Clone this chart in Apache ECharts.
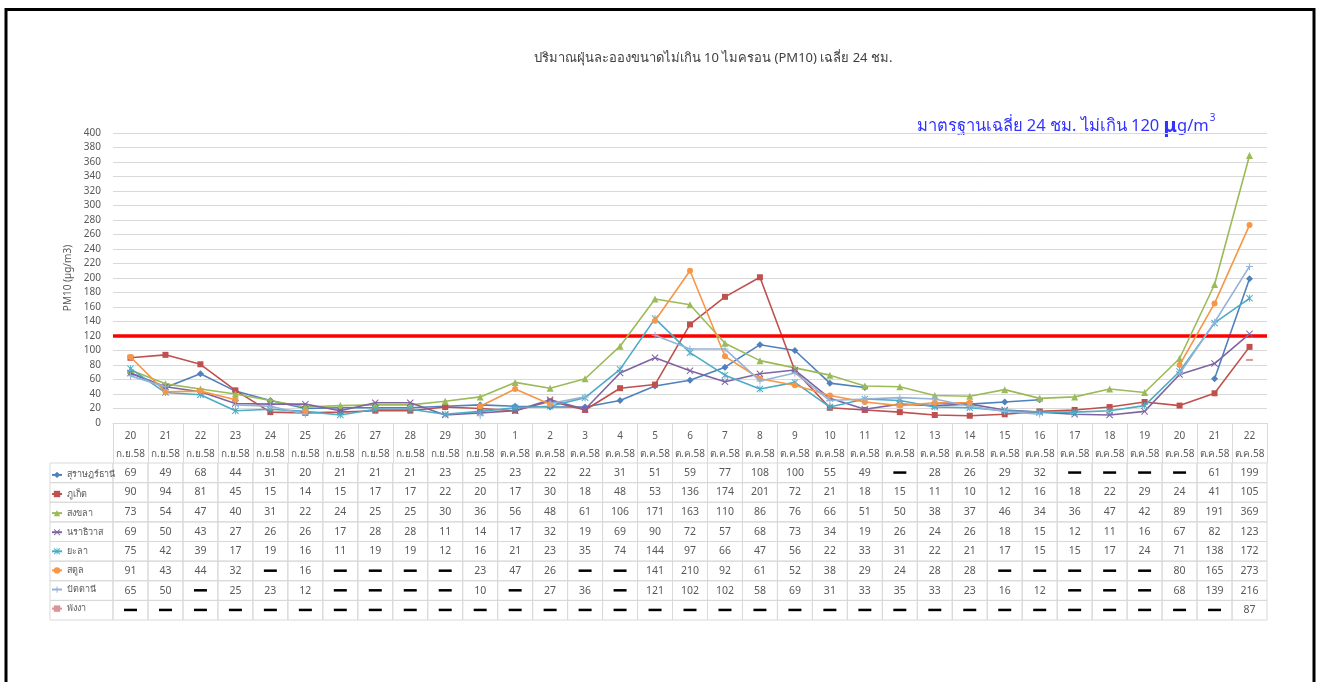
<!DOCTYPE html>
<html>
<head>
<meta charset="utf-8">
<script src="https://cdn.jsdelivr.net/npm/echarts@6/dist/echarts.min.js"></script>
<style>
html,body{margin:0;padding:0;background:#fff;}
#main{width:1325px;height:682px;}
</style>
</head>
<body>
<div id="main"></div>
<script>
// ---------- DATA ----------
const days = ['20','21','22','23','24','25','26','27','28','29','30',
  '1','2','3','4','5','6','7','8','9','10','11','12','13','14','15','16','17','18','19','20','21','22'];
const months = ['ก.ย.58','ก.ย.58','ก.ย.58','ก.ย.58','ก.ย.58','ก.ย.58','ก.ย.58','ก.ย.58','ก.ย.58','ก.ย.58','ก.ย.58',
  'ต.ค.58','ต.ค.58','ต.ค.58','ต.ค.58','ต.ค.58','ต.ค.58','ต.ค.58','ต.ค.58','ต.ค.58','ต.ค.58','ต.ค.58',
  'ต.ค.58','ต.ค.58','ต.ค.58','ต.ค.58','ต.ค.58','ต.ค.58','ต.ค.58','ต.ค.58','ต.ค.58','ต.ค.58','ต.ค.58'];
const seriesNames = ['สุราษฎร์ธานี','ภูเก็ต','สงขลา','นราธิวาส','ยะลา','สตูล','ปัตตานี','พังงา'];
const suratThani  = [69,49,68,44,31,20,21,21,21,23,25, 23,22,22,31,51,59,77,108,100,55,49,null,28,26,29,32,null,null,null,null,61,199];
const phuket      = [90,94,81,45,15,14,15,17,17,22,20, 17,30,18,48,53,136,174,201,72,21,18,15,11,10,12,16,18,22,29,24,41,105];
const songkhla    = [73,54,47,40,31,22,24,25,25,30,36, 56,48,61,106,171,163,110,86,76,66,51,50,38,37,46,34,36,47,42,89,191,369];
const narathiwat  = [69,50,43,27,26,26,17,28,28,11,14, 17,32,19,69,90,72,57,68,73,34,19,26,24,26,18,15,12,11,16,67,82,123];
const yala        = [75,42,39,17,19,16,11,19,19,12,16, 21,23,35,74,144,97,66,47,56,22,33,31,22,21,17,15,15,17,24,71,138,172];
const satun       = [91,43,44,32,null,16,null,null,null,null,23, 47,26,null,null,141,210,92,61,52,38,29,24,28,28,null,null,null,null,null,80,165,273];
const pattani     = [65,50,null,25,23,12,null,null,null,null,10, null,27,36,null,121,102,102,58,69,31,33,35,33,23,16,12,null,null,null,68,139,216];
const phangnga    = [null,null,null,null,null,null,null,null,null,null,null, null,null,null,null,null,null,null,null,null,null,null,null,null,null,null,null,null,null,null,null,null,87];
const yTicks = {min: 0, max: 400, interval: 20};
const standardLimit = 120;
const titleText = 'ปริมาณฝุ่นละอองขนาดไม่เกิน 10 ไมครอน (PM10) เฉลี่ย 24 ชม.';
const yAxisName = 'PM10 (µg/m3)';

// ---------- STYLE ----------
const FONT = "'Noto Sans', 'DejaVu Sans', sans-serif";
const values = [suratThani, phuket, songkhla, narathiwat, yala, satun, pattani, phangnga];
const colors = ['#4F81BD','#C0504D','#9BBB59','#8064A2','#4BACC6','#F79646','#95B3D7','#D99694'];
const PLUS = 'path://M4.3,0H5.7V4.3H10V5.7H5.7V10H4.3V5.7H0V4.3H4.3Z';
const XMARK = 'path://M0,1L1,0L5,4L9,0L10,1L6,5L10,9L9,10L5,6L1,10L0,9L4,5Z';
const STAR = 'path://M0,1L1,0L5,4L9,0L10,1L6,5L10,9L9,10L5,6L1,10L0,9L4,5Z M4.4,0H5.6V10H4.4Z';
const symbols = [
  {symbol:'diamond', size:7},
  {symbol:'rect', size:6},
  {symbol:'triangle', size:7},
  {symbol:XMARK, size:7},
  {symbol:STAR, size:7},
  {symbol:'circle', size:6},
  {symbol:PLUS, size:7},
  {symbol:'rect', size:[7,2]}
];
const categories = days.map((d, i) => d + '\n' + months[i]);
const LEGEND_COL_W = 63;

const lineSeries = seriesNames.map((name, i) => ({
  type: 'line',
  name: name,
  xAxisIndex: 0, yAxisIndex: 0,
  data: values[i],
  connectNulls: false,
  symbol: symbols[i].symbol,
  symbolSize: symbols[i].size,
  showAllSymbol: true,
  lineStyle: {width: 1.6, color: colors[i]},
  itemStyle: {color: colors[i]},
  z: 3 + i,
  animation: false
}));
lineSeries[0].markLine = {
  silent: true,
  symbol: ['none','none'],
  label: {show: false},
  lineStyle: {color: '#FF0000', width: 3.5, type: 'solid'},
  data: [{yAxis: standardLimit}],
  animation: false
};

const tableData = [];
for (let r = 0; r < seriesNames.length; r++) {
  for (let c = 0; c < categories.length; c++) tableData.push([c, r]);
}

const tableSeries = {
  type: 'custom',
  xAxisIndex: 1, yAxisIndex: 1,
  data: tableData,
  silent: true,
  clip: false,
  animation: false,
  renderItem: function (params, api) {
    const xi = api.value(0), yi = api.value(1);
    const c = api.coord([xi, yi]);
    const s = api.size([1, 1]);
    const v = values[yi][xi];
    const children = [{
      type: 'rect',
      shape: {x: c[0] - s[0] / 2, y: c[1] - s[1] / 2, width: s[0], height: s[1]},
      style: {fill: 'none', stroke: '#D9D9D9', lineWidth: 1}
    }];
    if (xi === 0) {
      children.push({
        type: 'rect',
        shape: {x: c[0] - s[0] / 2 - LEGEND_COL_W, y: c[1] - s[1] / 2, width: LEGEND_COL_W, height: s[1]},
        style: {fill: 'none', stroke: '#D9D9D9', lineWidth: 1}
      });
    }
    if (v == null) {
      children.push({
        type: 'rect',
        shape: {x: c[0] - 6.5, y: c[1] - 1.5, width: 13, height: 2.5},
        style: {fill: '#000'}
      });
    } else {
      children.push({
        type: 'text',
        style: {text: String(v), x: c[0], y: c[1], align: 'center', verticalAlign: 'middle',
          fill: '#595959', font: '10.5px ' + FONT}
      });
    }
    return {type: 'group', children: children};
  }
};

const option = {
  backgroundColor: '#fff',
  animation: false,
  textStyle: {fontFamily: FONT},
  grid: [
    {left: 113, top: 133, width: 1154, height: 290, containLabel: false},
    {left: 113, top: 463, width: 1154, height: 157, containLabel: false}
  ],
  legend: {
    data: seriesNames,
    orient: 'vertical',
    left: 51, top: 470.4,
    padding: 0,
    itemWidth: 10, itemHeight: 8, itemGap: 10.1,
    selectedMode: false,
    textStyle: {fontSize: 9, color: '#595959', lineHeight: 8, fontFamily: FONT}
  },
  xAxis: [
    {
      type: 'category', gridIndex: 0, data: categories, boundaryGap: true,
      axisLine: {lineStyle: {color: '#D9D9D9'}},
      axisTick: {show: true, length: 40, interval: 0, lineStyle: {color: '#D9D9D9'}},
      axisLabel: {interval: 0, fontSize: 10, color: '#595959', lineHeight: 18, margin: 4, fontFamily: FONT},
      splitLine: {show: false}
    },
    {
      type: 'category', gridIndex: 1, data: categories, boundaryGap: true, show: false
    }
  ],
  yAxis: [
    {
      type: 'value', gridIndex: 0, min: yTicks.min, max: yTicks.max, interval: yTicks.interval,
      name: yAxisName, nameLocation: 'middle', nameGap: 40, nameRotate: 90,
      nameTextStyle: {fontSize: 10, color: '#595959', fontFamily: FONT},
      axisLine: {show: false}, axisTick: {show: false},
      axisLabel: {fontSize: 10, color: '#595959', margin: 12, fontFamily: FONT},
      splitLine: {lineStyle: {color: '#D9D9D9', width: 1}}
    },
    {
      type: 'category', gridIndex: 1, data: seriesNames, inverse: true, show: false
    }
  ],
  graphic: [
    {type: 'rect', shape: {x: 6, y: 9.5, width: 1308, height: 720},
      style: {fill: 'none', stroke: '#000', lineWidth: 3}, z: 100},
    {type: 'text', x: 713, y: 58,
      style: {text: titleText, align: 'center', verticalAlign: 'middle', fill: '#404040',
        font: '13px ' + FONT}},
    {type: 'text', x: 1066, y: 126,
      style: {
        text: 'มาตรฐานเฉลี่ย 24 ชม. ไม่เกิน 120 {mu|μ}g/m{sup|3}',
        align: 'center', verticalAlign: 'middle', fill: '#3333FF',
        font: '16.5px ' + FONT,
        rich: {
          mu: {fontSize: 20, fontWeight: 'bold', fill: '#3333FF', fontFamily: FONT},
          sup: {fontSize: 10, fill: '#3333FF', fontFamily: FONT, padding: [0, 0, 16, 1]}
        }
      }}
  ],
  series: lineSeries.concat([tableSeries])
};

const chart = echarts.init(document.getElementById('main'), null, {renderer: 'canvas'});
chart.setOption(option);
</script>
</body>
</html>
